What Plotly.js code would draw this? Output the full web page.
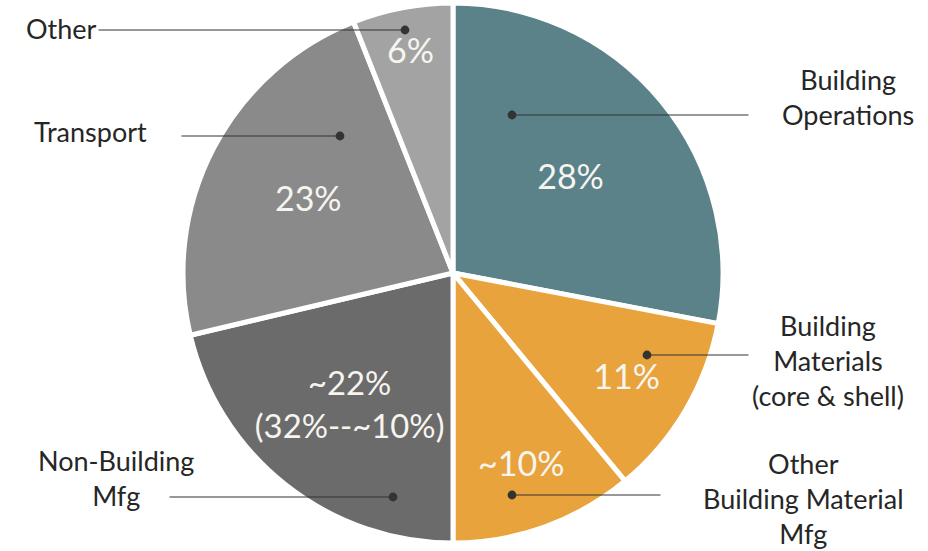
<!DOCTYPE html>
<html>
<head>
<meta charset="utf-8">
<script src="https://cdn.plot.ly/plotly-3.0.1.min.js"></script>
<style>html,body{margin:0;padding:0;background:#fff;}#chart{width:928px;height:551px;}</style>
</head>
<body>
<div id="chart"></div>
<script>
// Data
const categories = ["Building Operations", "Building Materials (core & shell)", "Other Building Material Mfg", "Non-Building Mfg", "Transport", "Other"];
const values = [28, 11, 11, 21.3, 22.7, 6];
const pctLabels = ["28%", "11%", "~10%", "~22%<br>(32%--~10%)", "23%", "6%"];
const calloutLabels = ["Building<br>Operations", "Building<br>Materials<br>(core & shell)", "Other<br>Building Material<br>Mfg", "Non-Building<br>Mfg", "Transport", "Other"];
const colors = ["#5b8189", "#e8a33d", "#e8a33d", "#6b6b6b", "#8a8a8a", "#a3a3a3"];

const W = 928, H = 551;
const FONT = "Lato, sans-serif";
const px = x => x / W;
const py = y => 1 - y / H;

// callout layout (pixel positions): dot, line other end, label centre
const callouts = [
  {dot: [512, 115], lineEnd: 750, label: [848, 97]},
  {dot: [647, 355], lineEnd: 750, label: [828, 360]},
  {dot: [512, 495], lineEnd: 662, label: [803, 498]},
  {dot: [393, 497], lineEnd: 168, label: [116, 478]},
  {dot: [340, 136], lineEnd: 180, label: [90, 131]},
  {dot: [405, 30], lineEnd: 97, label: [62, 28]}
];

const annotations = [];
callouts.forEach((c, i) => {
  annotations.push({
    xref: "paper", yref: "paper", x: px(c.dot[0]), y: py(c.dot[1]),
    text: "", showarrow: true, arrowhead: 6, arrowsize: 2.2, arrowwidth: 1,
    arrowcolor: "#333", axref: "pixel", ayref: "pixel",
    ax: c.lineEnd - c.dot[0], ay: 0
  });
  annotations.push({
    xref: "paper", yref: "paper", x: px(c.label[0]), y: py(c.label[1]),
    text: calloutLabels[i], showarrow: false, xanchor: "center", yanchor: "middle",
    font: {family: FONT, size: 27, color: "#262626"}
  });
});

const R = 270, CX = 453, CY = 273;
const data = [{
  type: "pie",
  labels: categories,
  values: values,
  text: pctLabels,
  textinfo: "text",
  texttemplate: "%{text}",
  textposition: "inside",
  insidetextorientation: "horizontal",
  sort: false,
  direction: "clockwise",
  rotation: 0,
  marker: {colors: colors, line: {color: "#ffffff", width: 5}},
  insidetextfont: {family: FONT, size: 34, color: "#f7f5ef"},
  hoverinfo: "label+percent",
  domain: {x: [(CX - R) / W, (CX + R) / W], y: [(H - CY - R) / H, (H - CY + R) / H]},
  showlegend: false
}];

const layout = {
  width: W, height: H,
  margin: {l: 0, r: 0, t: 0, b: 0},
  paper_bgcolor: "#ffffff",
  showlegend: false,
  annotations: annotations
};

Plotly.newPlot("chart", data, layout, {displayModeBar: false, staticPlot: true});
</script>
</body>
</html>
